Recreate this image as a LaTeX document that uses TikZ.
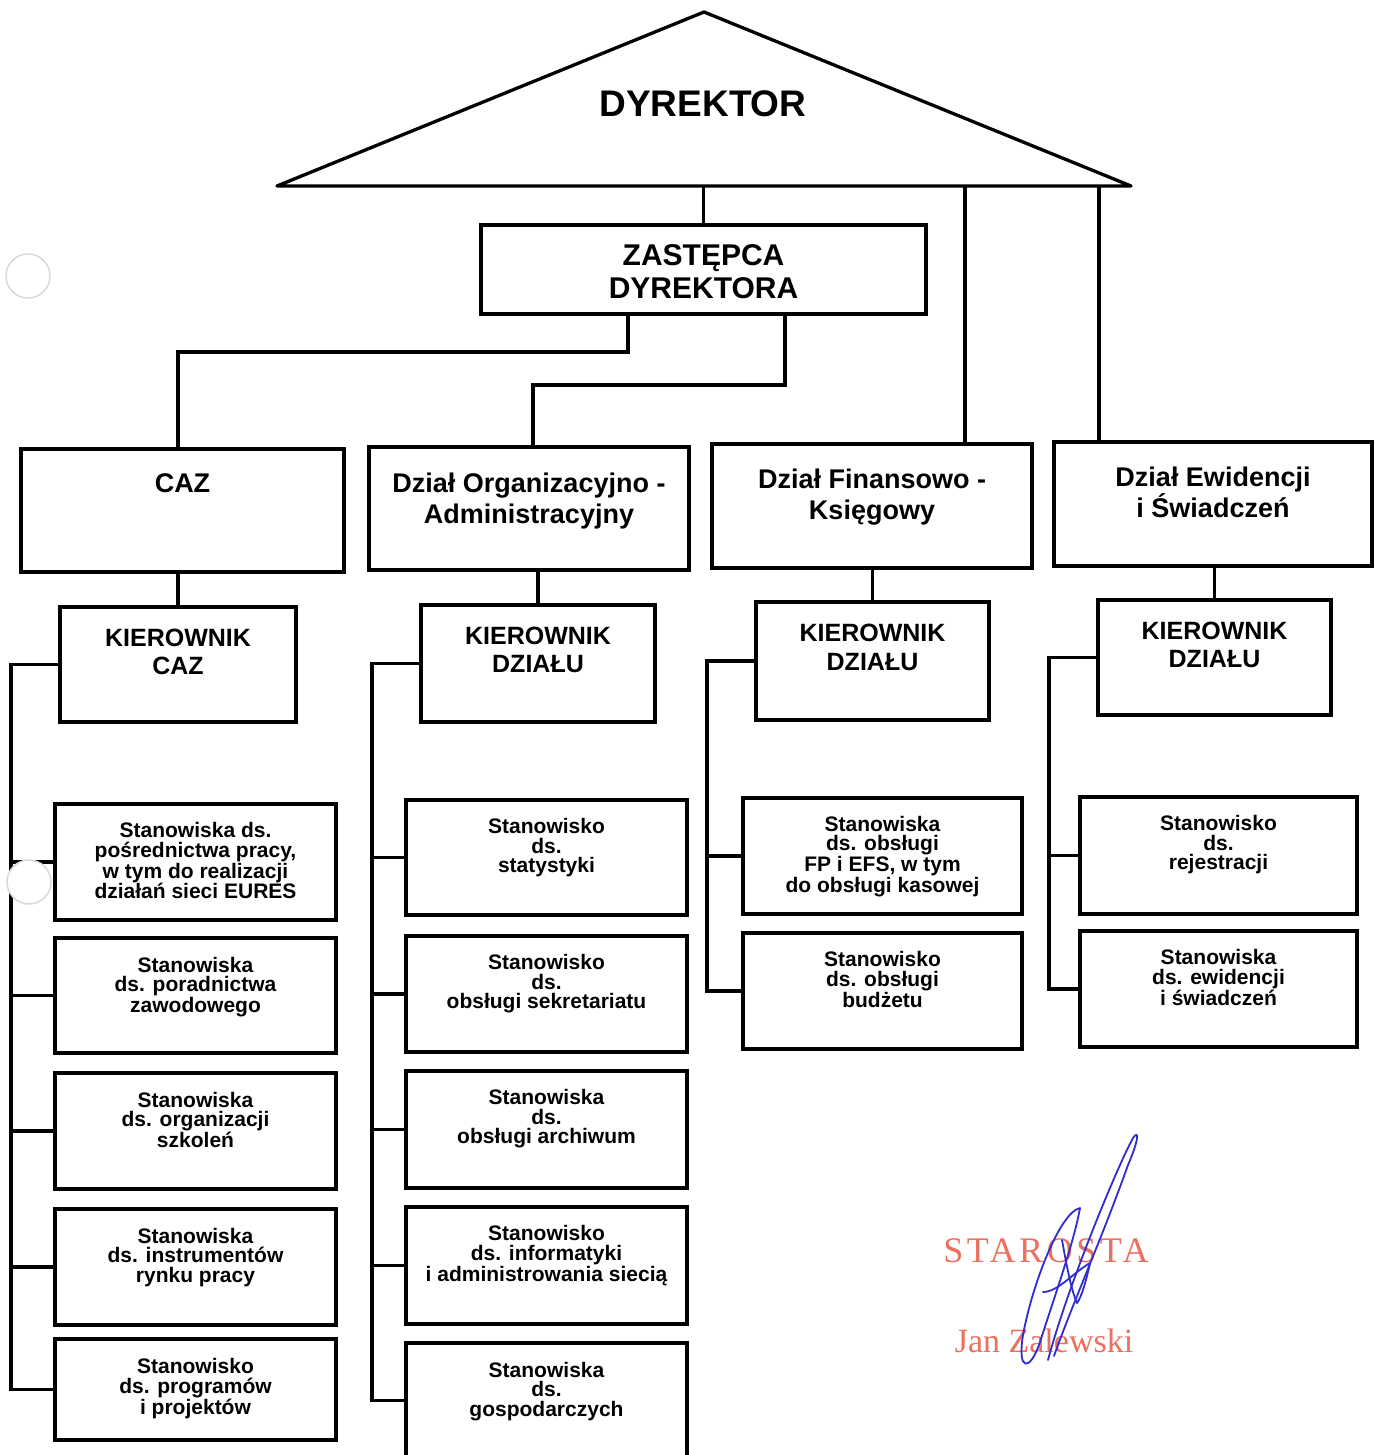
\documentclass[tikz,border=0pt]{standalone}
\usepackage{fontspec}
\setmainfont{Liberation Sans}
\newfontfamily\stampfont[LetterSpace=10]{Liberation Serif}
\newfontfamily\stampname{Liberation Serif}
\usetikzlibrary{calc}
\definecolor{stampred}{RGB}{234,112,96}
\definecolor{signblue}{RGB}{48,44,205}
\tikzset{
  box/.style={draw, line width=3.5pt, inner sep=0pt, outer sep=0pt},
  conn/.style={line width=3.3pt},
  dyrtxt/.style={font=\fontsize{37}{40}\selectfont\bfseries, align=center, inner sep=0pt},
  zasttxt/.style={font=\fontsize{30}{32.5}\selectfont\bfseries, align=center, inner sep=0pt},
  hdrtxt/.style={font=\fontsize{27}{31}\selectfont\bfseries, align=center, inner sep=0pt},
  kiertxt/.style={font=\fontsize{25}{28.5}\selectfont\bfseries, align=center, inner sep=0pt},
  stafftxt/.style={font=\fontsize{21}{19.5}\selectfont\bfseries, align=center, inner sep=0pt},
  hole/.style={draw=black!15, fill=white, line width=1.5pt}
}
% box: name, x1, y1, x2, y2
\newcommand\mkbox[5]{\node[box, minimum width={(#4)-(#2)}, minimum height={(#5)-(#3)}] (#1) at ({((#2)+(#4))/2},{((#3)+(#5))/2}) {};}
% text in box: box name, style, offset from top, text
\newcommand\mktext[4]{\node[#2, anchor=north] (#1t) at ($(#1.north)+(0,#3)$) {#4};}
\begin{document}
\begin{tikzpicture}[x=1pt,y=-1pt]
\useasboundingbox (0,0) rectangle (1374,1455);
\clip (0,0) rectangle (1374,1455);
\fill[white] (0,0) rectangle (1374,1455);

% Director triangle
\coordinate (apex) at (704,12);
\coordinate (bl) at (277,186);
\coordinate (br) at (1131,186);
\draw[line width=3.3pt, line join=round] (bl) -- (apex) -- (br) -- cycle;
\node[dyrtxt, anchor=north] (dyr) at (703,90.5) {DYREKTOR};

% Deputy
\mkbox{zast}{481}{225}{926}{314}
\mktext{zast}{zasttxt}{19.5}{ZASTĘPCA\\DYREKTORA}

% Departments
\mkbox{caz}{21}{449}{344}{572}
\mkbox{org}{369}{447}{689}{570}
\mkbox{fin}{712}{444}{1032}{568}
\mkbox{ew}{1054}{442}{1372}{566}
\mktext{caz}{hdrtxt}{24}{CAZ}
\mktext{org}{hdrtxt}{26}{Dział Organizacyjno -\\Administracyjny}
\mktext{fin}{hdrtxt}{25}{Dział Finansowo -\\Księgowy}
\mktext{ew}{hdrtxt}{25}{Dział Ewidencji\\i Świadczeń}

% Heads
\mkbox{kc}{60}{607}{296}{722}
\mkbox{ko}{421}{605}{655}{722}
\mkbox{kf}{756}{602}{989}{720}
\mkbox{ke}{1098}{600}{1331}{715}
\mktext{kc}{kiertxt}{21.5}{KIEROWNIK\\CAZ}
\mktext{ko}{kiertxt}{21.5}{KIEROWNIK\\DZIAŁU}
\mktext{kf}{kiertxt}{22}{KIEROWNIK\\DZIAŁU}
\mktext{ke}{kiertxt}{21.5}{KIEROWNIK\\DZIAŁU}

% CAZ staff
\mkbox{c1}{55}{804}{336}{920}
\mkbox{c2}{55}{938}{336}{1053}
\mkbox{c3}{55}{1073}{336}{1189}
\mkbox{c4}{55}{1209}{336}{1325}
\mkbox{c5}{55}{1339}{336}{1440}
\mktext{c1}{stafftxt}{18.5}{Stanowiska ds.\\pośrednictwa pracy,\\w tym do realizacji\\działań sieci EURES}
\mktext{c2}{stafftxt}{19}{Stanowiska\\ds. poradnictwa\\zawodowego}
\mktext{c3}{stafftxt}{19}{Stanowiska\\ds. organizacji\\szkoleń}
\mktext{c4}{stafftxt}{19}{Stanowiska\\ds. instrumentów\\rynku pracy}
\mktext{c5}{stafftxt}{19.5}{Stanowisko\\ds. programów\\i projektów}

% Org staff
\mkbox{o1}{406}{800}{687}{915}
\mkbox{o2}{406}{936}{687}{1052}
\mkbox{o3}{406}{1071}{687}{1188}
\mkbox{o4}{406}{1207}{687}{1324}
\mkbox{o5}{406}{1343}{687}{1458}
\mktext{o1}{stafftxt}{18.5}{Stanowisko\\ds.\\statystyki}
\mktext{o2}{stafftxt}{18.5}{Stanowisko\\ds.\\obsługi sekretariatu}
\mktext{o3}{stafftxt}{18.5}{Stanowiska\\ds.\\obsługi archiwum}
\mktext{o4}{stafftxt}{18.5}{Stanowisko\\ds. informatyki\\i administrowania siecią}
\mktext{o5}{stafftxt}{19}{Stanowiska\\ds.\\gospodarczych}

% Fin staff
\mkbox{f1}{743}{798}{1022}{914}
\mkbox{f2}{743}{933}{1022}{1049}
\mktext{f1}{stafftxt}{18}{Stanowiska\\ds. obsługi\\FP i EFS, w tym\\do obsługi kasowej}
\mktext{f2}{stafftxt}{18.5}{Stanowisko\\ds. obsługi\\budżetu}

% Ew staff
\mkbox{e1}{1080}{797}{1357}{914}
\mkbox{e2}{1080}{931}{1357}{1047}
\mktext{e1}{stafftxt}{18.5}{Stanowisko\\ds.\\rejestracji}
\mktext{e2}{stafftxt}{18.5}{Stanowiska\\ds. ewidencji\\i świadczeń}

% Connectors from triangle
\draw[conn] (zast.north) -- (zast.north |- bl);
\coordinate (finIn) at ($(fin.north)+(93,0)$);
\draw[conn] (finIn) -- (finIn |- bl);
\coordinate (ewIn) at ($(ew.north)+(-114,0)$);
\draw[conn] (ewIn) -- (ewIn |- bl);

% Deputy to departments
\coordinate (zL) at ($(zast.south)+(-75.5,0)$);
\draw[conn] (zL) -- ++(0,38) -| (kc.north |- caz.north);
\coordinate (zR) at ($(zast.south)+(81.5,0)$);
\coordinate (orgIn) at ($(org.north)+(4,0)$);
\draw[conn] (zR) -- ++(0,71) -| (orgIn);

% Departments to heads
\draw[conn] (kc.north |- caz.south) -- (kc.north);
\draw[conn] (ko.north |- org.south) -- (ko.north);
\draw[conn] (kf.north |- fin.south) -- (kf.north);
\draw[conn] (ke.north |- ew.south) -- (ke.north);

% Spines
\coordinate (sC) at (11,0);
\coordinate (sO) at (372,0);
\coordinate (sF) at (707,0);
\coordinate (sE) at (1049,0);
\draw[conn] (kc.west) -| (sC |- c5.west) -- (c5.west);
\foreach \i in {1,2,3,4} {\draw[conn] (sC |- c\i.west) -- (c\i.west);}
\draw[conn] (ko.west) -| (sO |- o5.west) -- (o5.west);
\foreach \i in {1,2,3,4} {\draw[conn] (sO |- o\i.west) -- (o\i.west);}
\draw[conn] (kf.west) -| (sF |- f2.west) -- (f2.west);
\draw[conn] (sF |- f1.west) -- (f1.west);
\draw[conn] (ke.west) -| (sE |- e2.west) -- (e2.west);
\draw[conn] (sE |- e1.west) -- (e1.west);

% punch holes (scan marks)
\draw[hole] (28,276) circle (22pt);
\draw[hole] (29,882) circle (22pt);

% Stamp
\node[text=stampred, font=\stampfont\fontsize{36}{40}\selectfont, anchor=base, inner sep=0pt] (stamp1) at (1046,1262) {STAROSTA};
\node[text=stampred, font=\stampname\fontsize{34}{38}\selectfont, anchor=base, inner sep=0pt] (stamp2) at (1044,1352) {Jan Zalewski};

% Signature
\draw[signblue, line width=1.8pt, line cap=round, line join=round]
  (1048,1360) .. controls (1068,1285) and (1118,1165) .. (1133,1138)
  .. controls (1140,1128) and (1138,1142) .. (1128,1165)
  .. controls (1102,1238) and (1072,1305) .. (1054,1356);
\draw[signblue, line width=1.8pt, line cap=round, line join=round]
  (1080,1208) .. controls (1060,1212) and (1032,1285) .. (1023,1335)
  .. controls (1017,1372) and (1030,1372) .. (1040,1342)
  .. controls (1055,1295) and (1074,1242) .. (1080,1208);
\draw[signblue, line width=1.8pt, line cap=round, line join=round]
  (1043,1292) .. controls (1058,1292) and (1074,1272) .. (1090,1263)
  .. controls (1086,1282) and (1081,1298) .. (1077,1303)
  .. controls (1071,1290) and (1066,1262) .. (1062,1240);
\end{tikzpicture}
\end{document}
